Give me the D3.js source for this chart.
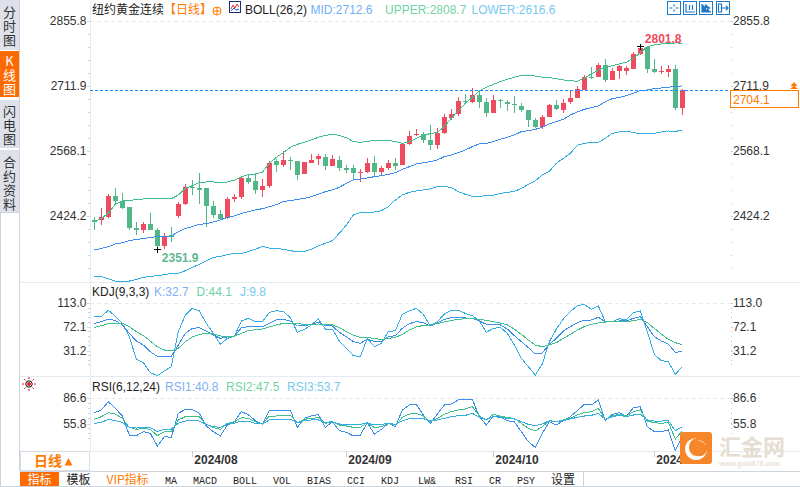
<!DOCTYPE html>
<html><head><meta charset="utf-8">
<script src="https://cdn.jsdelivr.net/npm/d3@7/dist/d3.min.js"></script>
<style>
html,body{margin:0;padding:0;background:#fff;overflow:hidden}
svg{display:block;font-family:"Liberation Sans",Arial,sans-serif}
.cjk{font-family:"Noto Sans CJK SC",sans-serif}
.mono{font-family:"Liberation Mono",monospace}
</style></head><body><div id="chart"></div>
<script>
const candleOpen=[2416.0,2416.0,2422.6,2469.1,2457.3,2444.8,2398.3,2393.9,2407.1,2393.9,2358.5,2382.0,2424.8,2451.4,2489.7,2486.0,2486.8,2447.0,2429.3,2419.7,2462.5,2466.9,2508.9,2502.3,2483.1,2491.2,2547.3,2537.7,2548.8,2545.8,2517.8,2542.1,2551.0,2555.4,2535.5,2548.8,2531.0,2531.0,2520.0,2522.2,2542.1,2522.2,2531.0,2542.1,2537.7,2584.2,2604.1,2606.3,2593.0,2581.9,2608.5,2641.0,2650.5,2680.0,2677.1,2692.6,2677.1,2652.8,2681.5,2677.1,2672.7,2668.2,2659.4,2637.3,2621.8,2643.9,2669.7,2659.4,2677.1,2686.0,2703.7,2732.4,2732.4,2758.2,2725.8,2745.7,2745.7,2750.1,2783.3,2798.8,2750.1,2743.5,2743.5,2750.1,2664.5];
const candleHigh=[2421.9,2441.8,2473.5,2487.5,2475.0,2445.5,2411.6,2411.6,2430.7,2397.6,2386.5,2399.8,2455.8,2495.6,2504.5,2520.0,2486.8,2458.0,2438.1,2467.6,2473.5,2510.4,2515.6,2517.8,2506.7,2546.5,2550.2,2568.7,2555.4,2547.3,2544.3,2562.0,2562.0,2562.0,2559.8,2557.6,2537.7,2537.7,2528.8,2553.2,2557.6,2535.5,2548.8,2553.2,2585.6,2612.9,2616.6,2611.5,2626.2,2618.8,2650.5,2661.6,2688.2,2694.8,2707.3,2703.7,2685.2,2692.6,2684.5,2681.5,2690.4,2675.6,2659.4,2641.7,2648.3,2672.7,2681.5,2683.7,2701.4,2712.5,2736.8,2754.5,2763.4,2772.2,2752.3,2759.0,2756.8,2787.7,2801.8,2801.2,2772.2,2756.8,2759.0,2759.0,2705.1];
const candleLow=[2393.9,2404.9,2419.7,2454.3,2440.3,2393.9,2383.5,2388.0,2393.9,2351.9,2352.5,2368.0,2420.4,2449.2,2471.3,2451.4,2401.2,2421.1,2416.0,2417.5,2455.8,2462.5,2495.6,2473.5,2466.9,2486.8,2522.2,2533.3,2526.6,2504.5,2517.8,2542.1,2537.7,2526.6,2535.5,2524.4,2520.0,2504.5,2500.1,2520.0,2513.3,2513.3,2526.6,2526.6,2537.7,2581.9,2601.9,2585.6,2570.9,2573.1,2606.3,2637.3,2646.1,2672.7,2674.1,2663.1,2643.2,2652.8,2663.1,2657.2,2652.0,2655.0,2621.8,2619.6,2617.4,2643.9,2658.7,2652.8,2672.7,2685.2,2703.7,2728.0,2732.4,2721.4,2725.8,2728.0,2736.8,2750.1,2781.1,2741.3,2741.3,2739.1,2732.4,2659.4,2648.3];
const candleClose=[2412.3,2421.9,2469.1,2458.0,2442.5,2398.3,2393.9,2407.1,2393.9,2358.5,2379.1,2377.6,2451.4,2489.0,2487.5,2483.1,2447.0,2427.0,2418.2,2462.5,2467.6,2509.7,2500.1,2482.4,2491.2,2541.4,2537.7,2548.8,2547.3,2515.6,2544.3,2548.8,2556.9,2536.2,2551.0,2531.0,2526.6,2520.0,2522.2,2542.1,2522.2,2531.0,2542.1,2535.5,2584.2,2601.9,2606.3,2593.0,2581.9,2608.5,2643.9,2650.5,2679.3,2677.8,2692.6,2677.1,2652.8,2681.5,2679.3,2673.4,2671.2,2659.4,2637.3,2621.8,2643.9,2669.7,2661.6,2674.9,2686.0,2705.9,2732.4,2730.2,2758.2,2725.8,2745.7,2756.8,2752.3,2783.3,2796.6,2750.1,2743.5,2745.0,2750.1,2663.8,2704.1];
const bollUpper=[2412.3,2419.7,2430.7,2451.4,2458.0,2459.5,2461.0,2462.5,2463.2,2463.2,2463.9,2463.2,2471.3,2486.0,2492.0,2499.3,2500.1,2500.1,2499.3,2500.1,2503.8,2511.9,2516.3,2517.8,2521.5,2541.4,2554.7,2565.0,2576.8,2583.4,2587.8,2593.0,2598.9,2603.3,2605.6,2603.3,2598.2,2589.3,2587.8,2590.0,2592.3,2592.3,2592.3,2589.3,2585.6,2589.3,2596.7,2604.1,2607.0,2610.0,2622.5,2641.0,2657.9,2674.1,2687.4,2701.4,2709.6,2716.2,2722.1,2727.3,2731.7,2736.1,2736.1,2734.6,2731.7,2731.0,2728.7,2725.8,2724.3,2722.8,2729.5,2739.1,2747.9,2753.8,2757.5,2761.2,2764.9,2773.7,2786.3,2799.5,2803.2,2805.4,2806.9,2807.6,2807.5];
const bollMid=[2349.6,2353.3,2357.0,2362.9,2365.8,2370.3,2373.2,2374.7,2377.6,2379.1,2379.8,2380.6,2390.2,2397.6,2401.2,2406.4,2407.9,2411.6,2416.0,2421.1,2424.8,2430.7,2434.4,2438.1,2441.1,2445.5,2449.9,2457.3,2458.8,2461.7,2463.9,2467.6,2472.8,2478.7,2482.4,2488.3,2497.1,2504.5,2506.7,2508.9,2511.9,2514.1,2517.0,2520.7,2528.1,2534.0,2539.9,2542.8,2545.1,2548.8,2556.1,2559.8,2565.0,2570.9,2578.3,2584.2,2585.6,2589.3,2594.5,2598.9,2604.1,2611.5,2613.7,2616.6,2621.0,2628.4,2633.6,2638.7,2648.3,2655.0,2660.9,2664.6,2668.2,2677.8,2684.5,2687.4,2691.1,2696.3,2702.2,2703.7,2706.6,2708.1,2709.6,2711.8,2712.6];
const bollLower=[2291.3,2291.3,2286.2,2281.0,2281.0,2281.0,2284.7,2289.1,2291.3,2292.8,2295.0,2298.0,2298.0,2303.9,2311.2,2317.9,2326.0,2333.4,2335.6,2339.3,2342.2,2342.2,2345.9,2351.1,2357.7,2354.0,2353.3,2351.1,2348.1,2345.9,2345.9,2351.1,2358.5,2364.4,2370.3,2386.5,2404.9,2427.0,2432.2,2433.0,2433.7,2436.6,2445.5,2460.2,2471.3,2477.2,2480.2,2482.4,2485.3,2489.7,2490.5,2487.5,2478.7,2472.8,2468.4,2468.4,2469.8,2470.6,2475.0,2477.2,2479.4,2486.0,2494.9,2503.0,2515.6,2523.7,2541.4,2552.4,2563.5,2581.2,2585.6,2587.8,2587.8,2596.7,2607.8,2610.7,2612.2,2610.0,2606.3,2607.0,2607.8,2610.7,2612.9,2612.2,2614.4];
const kdjK=[78.4,81.3,85.4,83.6,75.6,61.2,47.9,41.0,29.5,21.4,21.4,21.4,41.0,61.2,69.8,71.0,65.2,58.3,52.5,54.8,55.4,71.0,72.7,72.1,72.7,78.4,84.2,85.4,82.5,73.8,74.4,76.7,80.2,74.4,73.8,62.9,55.4,46.8,43.9,50.8,47.3,47.3,55.4,57.1,69.8,77.9,81.3,79.6,73.8,79.0,85.4,88.2,88.8,87.7,87.1,82.5,76.7,77.3,75.6,68.6,57.1,46.8,36.4,25.4,27.2,42.2,52.5,65.2,72.7,79.6,83.6,84.2,88.8,81.3,81.3,82.5,82.5,87.1,90.0,72.7,55.4,47.9,42.7,28.3,30.1];
const kdjD=[71.5,74.4,77.9,79.0,79.0,72.7,64.0,57.1,47.9,38.1,32.4,30.6,35.2,46.8,54.8,59.4,61.2,60.0,56.6,56.0,56.0,61.2,65.8,67.5,68.6,72.1,75.6,78.4,79.0,77.9,76.7,76.7,77.3,76.7,75.6,71.0,64.0,58.3,54.2,54.2,51.9,50.8,52.5,54.2,59.4,66.9,72.1,75.0,75.6,77.9,80.7,83.6,85.4,86.5,87.1,85.4,83.6,81.3,79.0,75.6,68.6,59.4,49.6,41.0,38.1,41.0,45.0,52.5,59.4,66.9,72.7,76.7,79.0,80.7,81.3,81.3,81.3,83.0,85.4,79.6,69.8,60.0,50.8,45.0,41.6];
const kdjJ=[90.5,90.5,100.9,91.1,78.4,55.4,16.8,10.5,-6.8,-12.0,-3.9,3.6,64.0,92.8,104.4,99.8,78.4,61.2,42.2,52.5,56.0,82.5,87.1,81.3,81.3,97.4,100.3,98.6,88.2,62.9,68.1,75.6,85.9,68.6,68.6,47.9,35.2,22.6,20.8,52.5,38.1,43.9,64.0,65.8,94.0,99.8,104.4,94.0,73.8,81.3,94.6,100.9,100.9,95.7,91.7,82.5,62.9,69.8,71.5,61.2,41.0,18.0,3.6,-10.8,8.2,46.8,68.6,85.9,98.6,109.0,111.3,102.6,108.4,81.3,81.3,86.5,84.2,96.9,99.8,64.0,24.9,13.9,12.2,-9.7,3.6];
const rsi1=[69.2,72.4,82.5,74.4,65.1,42.0,41.2,46.1,44.0,28.7,40.0,39.2,68.4,73.2,72.8,68.4,53.0,46.1,40.8,54.2,58.2,70.4,66.7,59.4,55.0,72.4,71.2,72.4,72.4,51.3,62.3,65.1,67.1,51.3,58.2,47.3,45.3,40.8,42.0,57.0,43.2,48.9,56.2,52.2,72.4,78.5,79.3,66.3,56.2,67.5,78.5,79.7,84.6,84.6,85.4,64.3,54.2,65.1,64.3,59.4,58.2,46.1,33.9,27.0,44.0,58.2,54.2,59.4,64.3,71.6,79.3,78.5,84.6,59.4,67.1,69.2,64.3,75.2,76.5,52.2,46.1,46.1,48.1,23.0,40.8];
const rsi2=[61.1,64.3,69.2,67.5,62.3,51.3,48.9,50.1,48.9,41.2,46.1,46.1,60.3,64.3,65.1,64.3,55.0,50.9,48.9,56.2,58.2,63.1,62.3,58.2,55.4,65.1,65.1,66.3,66.3,57.0,61.1,62.3,63.1,56.2,58.2,54.2,53.0,51.3,51.3,57.0,50.9,52.2,56.2,54.2,63.5,67.5,68.4,65.1,58.2,62.3,67.1,70.4,72.4,73.6,76.5,65.1,60.3,67.1,65.1,63.1,62.3,56.2,50.1,46.9,52.2,59.4,58.2,60.3,62.3,66.3,69.2,70.4,74.4,61.1,65.1,67.5,65.1,70.4,72.4,59.0,57.0,56.2,57.4,37.2,47.3];
const rsi3=[56.2,57.4,61.1,59.4,57.4,51.3,50.5,51.3,50.9,46.1,49.3,49.3,56.2,59.0,59.4,59.0,55.0,52.2,51.3,55.4,56.2,59.0,59.0,56.2,55.4,60.3,60.3,61.1,61.1,57.0,59.4,60.3,60.3,57.4,58.2,55.4,55.0,55.0,55.0,57.0,54.2,55.0,56.2,55.0,59.4,61.9,62.7,61.9,59.4,60.3,62.3,64.3,65.5,65.9,68.4,63.5,61.1,64.3,63.5,62.3,61.5,58.2,55.0,53.4,55.4,59.4,58.2,59.4,61.5,63.5,65.1,65.9,68.4,61.1,64.3,65.9,64.3,66.3,67.5,60.3,59.0,59.0,59.4,47.3,52.2];
const priceTickValues=[2855.8,2711.9,2568.1,2424.2];
const kdjTickValues=[113.0,72.1,31.2];
const rsiTickValues=[86.6,55.8];
const dateTickIndex=[14,36,57,80];
const dateTickLabels=["2024/08","2024/09","2024/10","2024/11"];
const lastPrice=2704.1, highLabel=2801.8, lowLabel=2351.9, highIndex=78, lowIndex=9;
const bottomTabs=["指标","模板","VIP指标","MA","MACD","BOLL","VOL","BIAS","CCI","KDJ","LW&","RSI","CR","PSY","设置"];
const bottomTabEdges=[20,59,98,157,185,225,265,299,339,373,407,447,481,509,543,583];
const sideTabs=["分时图","K线图","闪电图","合约资料"];

const W=800,H=487,COL={red:"#ee4b5e",green:"#52b788",blue:"#3a8ef0",mint:"#3fbf8b",sky:"#34ade6",
 orange:"#ff7a00",axis:"#e3eaf0",text:"#333"};
const svg=d3.select("#chart").append("svg").attr("width",W).attr("height",H);
const idx=d3.range(candleOpen.length);
const x=d3.scalePoint().domain(idx).range([94.33,682.33]);
const yP=d3.scaleLinear().domain([2424.2,2855.8]).range([216.3,21.2]);
const yK=d3.scaleLinear().domain([31.2,113.0]).range([350.67,303.33]);
const yR=d3.scaleLinear().domain([55.8,86.6]).range([423.67,398.33]);
const PL=90,PR=731;

// ---- frame
const frame=svg.append("g").attr("shape-rendering","crispEdges");
[[282,PL,W],[376,20,W],[451,20,W],[471,20,W],[486,20,W]].forEach(d=>
  frame.append("line").attr("x1",d[1]).attr("x2",d[2]).attr("y1",d[0]+.5).attr("y2",d[0]+.5)
   .attr("stroke",d[0]>=471?"#cdd4dc":COL.axis));
frame.append("line").attr("x1",20).attr("x2",90).attr("y1",282.5).attr("y2",282.5).attr("stroke",COL.axis);
frame.append("line").attr("x1",PL+.5).attr("x2",PL+.5).attr("y1",0).attr("y2",451).attr("stroke",COL.axis);
frame.append("line").attr("x1",19.5).attr("x2",19.5).attr("y1",0).attr("y2",471).attr("stroke","#cdd4dc");

// ---- axes helper
function axes(scale,ticks,bottom,gridVal){
  const fmt=d3.format(".1f");
  const minor=[];
  for(const [a,b] of d3.pairs(ticks)) for(let k=1;k<5;k++) minor.push(a+(b-a)*k/5);
  const last=ticks[ticks.length-1], step=(ticks[0]-ticks[1])/5;
  for(let k=1;k<=8;k++){const v=last-step*k; if(scale(v)<bottom-4) minor.push(v);}
  const l=svg.append("g").attr("transform",`translate(${PL},0)`)
    .call(d3.axisLeft(scale).tickValues(ticks).tickFormat(fmt).tickSize(3).tickPadding(0));
  const r=svg.append("g").attr("transform",`translate(${PR},0)`)
    .call(d3.axisRight(scale).tickValues(ticks).tickFormat(fmt).tickSize(2).tickPadding(0));
  [l,r].forEach(g=>{g.select(".domain").remove();
    g.selectAll(".tick line").attr("stroke","#cfd6dd").attr("shape-rendering","crispEdges");
    g.selectAll("text").attr("fill",COL.text).attr("font-size",12).attr("dy","0.3em")
     .attr("font-family",'"Liberation Sans",Arial,sans-serif');});
  l.selectAll("text").attr("dx",-.5);
  const mg=svg.append("g").attr("shape-rendering","crispEdges");
  mg.selectAll("line.l").data(minor).join("line").attr("x1",PL-2).attr("x2",PL).attr("y1",scale).attr("y2",scale).attr("stroke","#ccd3da");
  const mr=svg.append("g").attr("shape-rendering","crispEdges");
  mr.selectAll("line").data(minor.concat(ticks)).join("line").attr("x1",PR).attr("x2",PR+1).attr("y1",scale).attr("y2",scale).attr("stroke","#b9c1c9");
  svg.append("line").attr("x1",PL).attr("x2",PR).attr("y1",Math.round(scale(gridVal))+.5).attr("y2",Math.round(scale(gridVal))+.5)
    .attr("stroke","#e8e8e8").attr("stroke-dasharray","4,3").attr("shape-rendering","crispEdges");
}
axes(yP,priceTickValues,279,2855.8);
axes(yK,kdjTickValues,372,113.0);
axes(yR,rsiTickValues,446,86.6);

// ---- date axis
const xA=svg.append("g").attr("transform","translate(0,451)")
  .call(d3.axisBottom(x).tickValues(dateTickIndex).tickFormat((d,i)=>dateTickLabels[i]).tickSize(6).tickPadding(2));
xA.select(".domain").remove();
xA.selectAll(".tick line").attr("stroke","#c7ced6").attr("shape-rendering","crispEdges");
xA.selectAll("text").attr("text-anchor","start").attr("x",1.5).attr("y",3).attr("dy","0.8em").attr("fill","#333")
  .attr("font-weight","bold").attr("font-size",12).attr("font-family",'"Liberation Sans",Arial,sans-serif');

// ---- candles
const cg=svg.append("g");
const isUp=i=>candleClose[i]>=candleOpen[i];
cg.selectAll("line").data(idx).join("line")
  .attr("x1",i=>Math.round(x(i))+.5).attr("x2",i=>Math.round(x(i))+.5)
  .attr("y1",i=>yP(candleHigh[i])).attr("y2",i=>yP(candleLow[i]))
  .attr("stroke",i=>isUp(i)?COL.red:COL.green).attr("stroke-width",1).attr("shape-rendering","crispEdges");
cg.selectAll("rect").data(idx).join("rect")
  .attr("x",i=>Math.round(x(i))-2).attr("width",5)
  .attr("y",i=>yP(Math.max(candleOpen[i],candleClose[i])))
  .attr("height",i=>Math.max(1,yP(Math.min(candleOpen[i],candleClose[i]))-yP(Math.max(candleOpen[i],candleClose[i]))))
  .attr("fill",i=>isUp(i)?COL.red:COL.green).attr("shape-rendering","crispEdges");

// ---- lines
function drawLine(vals,scale,color){
  const gen=d3.line().x((d,i)=>x(i)).y(d=>scale(d));
  svg.append("path").attr("d",gen(vals)).attr("fill","none").attr("stroke",color).attr("stroke-width",1).attr("shape-rendering","crispEdges");
}
drawLine(bollLower,yP,COL.sky);
drawLine(bollUpper,yP,COL.mint);
drawLine(bollMid,yP,COL.blue);
drawLine(kdjJ,yK,COL.sky);
drawLine(kdjK,yK,COL.blue);
drawLine(kdjD,yK,COL.mint);
drawLine(rsi1,yR,COL.blue);
drawLine(rsi2,yR,COL.mint);
drawLine(rsi3,yR,COL.sky);

// ---- last price
const ly=Math.round(yP(lastPrice))+.5;
svg.append("line").attr("x1",PL).attr("x2",PR).attr("y1",ly).attr("y2",ly)
  .attr("stroke","#1e8cff").attr("stroke-dasharray","3,2").attr("shape-rendering","crispEdges");
svg.append("rect").attr("x",730.5).attr("y",ly).attr("width",67.5).attr("height",17).attr("fill","#fff")
  .attr("stroke",COL.orange).attr("shape-rendering","crispEdges");
svg.append("text").attr("x",733).attr("y",ly+13).attr("fill",COL.orange).attr("font-size",12).text(d3.format(".1f")(lastPrice));
svg.append("path").attr("d","M790.5 86 L794 82 L797.5 86 Z M790 89 L794 85.5 L798 89 Z").attr("fill",COL.orange);

// ---- hi/lo marks
function cross(i,v){const cx=Math.round(x(i))+.5,cy=Math.round(yP(v))+.5;
  svg.append("path").attr("d",`M${cx-3.5} ${cy}H${cx+3.5}M${cx} ${cy-3}V${cy+3}`).attr("stroke","#000").attr("fill","none").attr("shape-rendering","crispEdges");}
cross(highIndex,highLabel);cross(lowIndex,lowLabel);
svg.append("text").attr("x",x(highIndex)+4.5).attr("y",yP(highLabel)-2.5).attr("fill",COL.red).attr("font-weight","bold").attr("font-size",12).text(highLabel.toFixed(1));
svg.append("text").attr("x",x(lowIndex)+4.5).attr("y",yP(lowLabel)+13).attr("fill","#5fb892").attr("font-weight","bold").attr("font-size",12).text(lowLabel.toFixed(1));

// ---- header legends
function t(xp,yp,s,c,o={}){return svg.append("text").attr("x",xp).attr("y",yp).attr("fill",c).attr("font-size",o.size||12)
  .attr("class",o.cls||null).attr("font-weight",o.w||null).attr("text-anchor",o.a||null).text(s);}
t(92,14,"纽约黄金连续","#222",{cls:"cjk",size:12});
t(164,14,"【日线】",COL.orange,{cls:"cjk",size:12});
svg.append("circle").attr("cx",217).attr("cy",11).attr("r",4).attr("fill","none").attr("stroke",COL.orange);
svg.append("path").attr("d","M213 11H221M217 7V15").attr("stroke",COL.orange).attr("fill","none");
svg.append("rect").attr("x",229.5).attr("y",1.5).attr("width",11).attr("height",11).attr("fill","#fff").attr("stroke","#1a2a80").attr("shape-rendering","crispEdges");
svg.append("path").attr("d","M231 9L233 5L235 8L237 4L239 7").attr("stroke","#e03040").attr("fill","none");
svg.append("path").attr("d","M231 11L234 8L236 10L239 9").attr("stroke","#2060d0").attr("fill","none");
t(245,14,"BOLL(26,2)","#222");
t(310.5,14,"MID:2712.6","#6fb0f5");
t(385,14,"UPPER:2808.7","#72d2a6");
t(471.5,14,"LOWER:2616.6","#78c8ee");
t(92,296,"KDJ(9,3,3)","#222");
t(154,296,"K:32.7","#7fb0f5");t(196.5,296,"D:44.1","#72d2a6");t(240,296,"J:9.8","#78c8ee");
t(92,391,"RSI(6,12,24)","#222");
t(165,391,"RSI1:40.8","#7fb0f5");t(226,391,"RSI2:47.5","#72d2a6");t(287,391,"RSI3:53.7","#78c8ee");

// ---- toolbar icons
[667.5,683.5,699.5,716].forEach((ix,k)=>{
  svg.append("rect").attr("x",ix).attr("y",1.5).attr("width",13).attr("height",13).attr("fill","#fff").attr("stroke","#1e78c8").attr("shape-rendering","crispEdges");
  const p=["M%x 8h3M%y 8h3M%m 4.5v2M%m 9.5v2","M%a 4v8h9M%b 5v5M%c 5v5","M%a 4v8h9M%b 5l4 3l-4 3z","M%a 4v8h3v-8zM%d 8h6M%e 6l2 2l-2 2"][k]
   .replace(/%x/g,ix+2).replace(/%y/g,ix+8).replace(/%m/g,ix+6.5).replace(/%a/g,ix+2.5).replace(/%b/g,ix+6).replace(/%c/g,ix+9).replace(/%d/g,ix+6).replace(/%e/g,ix+10);
  svg.append("path").attr("d",p).attr("stroke","#1e78c8").attr("stroke-width",1.2).attr("fill",k==2?"#1e78c8":"none");
});

// ---- side tabs (each tab is one vertical text)
const sideY=[[0,50],[51,97],[100,148],[150,212]];
const sideTextY=[6,55,105,156];
sideTabs.forEach((s,k)=>{
  svg.append("rect").attr("x",0).attr("y",sideY[k][0]).attr("width",19).attr("height",sideY[k][1]-sideY[k][0])
    .attr("fill",k==1?"#ff6a00":"#dfe1ea").attr("shape-rendering","crispEdges");
  svg.append("text").attr("x",9.5).attr("y",sideTextY[k]).attr("class","cjk").attr("font-size",13).attr("fill",k==1?"#fff":"#333")
    .style("writing-mode","vertical-rl").style("text-orientation","upright").style("letter-spacing","1px").text(s);
});
svg.append("line").attr("x1",.5).attr("x2",.5).attr("y1",212).attr("y2",487).attr("stroke","#cdd4dc").attr("shape-rendering","crispEdges");
svg.append("rect").attr("x",0).attr("y",212).attr("width",19).attr("height",1).attr("fill","#cdd4dc");
svg.append("line").attr("x1",0).attr("x2",20).attr("y1",486.5).attr("y2",486.5).attr("stroke","#cdd4dc");

// ---- bottom left box
svg.append("rect").attr("x",20.5).attr("y",451.5).attr("width",69).attr("height",19).attr("fill","#fff").attr("stroke","#d6dde4").attr("shape-rendering","crispEdges");
t(34,466,"日线",COL.orange,{cls:"cjk",size:14,w:"bold"});
svg.append("path").attr("d","M64.5 465.5L68.5 458L72.5 465.5Z").attr("fill",COL.orange);

// ---- bottom tabs
bottomTabs.forEach((s,k)=>{
  const a=bottomTabEdges[k],b=bottomTabEdges[k+1],isCjk=/[\u4e00-\u9fff]/.test(s);
  svg.append("rect").attr("x",a).attr("y",472).attr("width",b-a).attr("height",14)
    .attr("fill",k==0?"#ff6a00":"#fff").attr("shape-rendering","crispEdges");
  svg.append("line").attr("x1",b+.5).attr("x2",b+.5).attr("y1",472).attr("y2",486).attr("stroke","#cdd4dc").attr("shape-rendering","crispEdges");
  t((a+b)/2,483.5,s,k==0?"#fff":k==2?COL.orange:"#222",{cls:isCjk?"cjk":"mono",size:isCjk?12:10,a:"middle"});
});

// ---- sun icon
const sun=svg.append("g").attr("transform","translate(29,384)");
sun.append("circle").attr("r",3.2).attr("fill","#fff").attr("stroke","#111");
sun.append("circle").attr("r",1.9).attr("fill","#e81020");
d3.range(8).forEach(k=>{const a=k*Math.PI/4;
  sun.append("line").attr("x1",5*Math.cos(a)).attr("y1",5*Math.sin(a)).attr("x2",7*Math.cos(a)).attr("y2",7*Math.sin(a)).attr("stroke","#e81020");});

// ---- watermark logo
const lg=svg.append("g");
lg.append("rect").attr("x",680).attr("y",432).attr("width",32).attr("height",32).attr("rx",3).attr("fill","#f5862a");
lg.append("path").attr("d","M697 438 A11 11 0 1 0 707 450 A8 8 0 0 1 697 456 A8 8 0 0 1 689 448 A9 9 0 0 1 697 438Z").attr("fill","#fff");
lg.append("path").attr("d","M697 441 A7 7 0 0 1 706 446 A9 9 0 0 0 697 441Z").attr("fill","#fff");
t(719,455,"汇金网","#e6ddd2",{cls:"cjk",size:22,w:"bold"});
t(719,466,"www.gold678.com","#eadfd2",{size:7,w:"bold"});
</script></body></html>
